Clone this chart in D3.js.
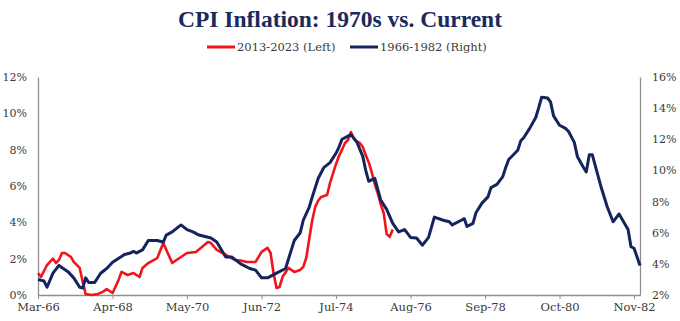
<!DOCTYPE html>
<html>
<head>
<meta charset="utf-8">
<script src="https://cdn.jsdelivr.net/npm/d3@7"></script>
<style>
  body { margin: 0; background: #fff; }
  text { font-family: Georgia, "DejaVu Serif", serif; }
</style>
</head>
<body>
<div id="chart"></div>
<script>
// CPI YoY. Red plots on the left axis, blue on the right.
var blueDates = ["1966-03","1966-05","1966-06","1966-08","1966-10","1967-01","1967-03","1967-05","1967-06","1967-07",
  "1967-08","1967-10","1967-12","1968-02","1968-04","1968-08","1968-10","1968-11","1968-12","1969-02",
  "1969-04","1969-07","1969-09","1969-10","1969-12","1970-03","1970-05","1970-07","1970-09","1971-01",
  "1971-03","1971-05","1971-06","1971-08","1971-11","1972-02","1972-04","1972-06","1972-08","1972-11",
  "1973-02","1973-04","1973-05","1973-07","1973-08","1973-10","1973-11","1974-01","1974-03","1974-05",
  "1974-07","1974-08","1974-09","1974-11","1974-12","1975-02","1975-04","1975-05","1975-06","1975-08",
  "1975-10","1975-12","1976-02","1976-04","1976-06","1976-08","1976-10","1976-12","1977-02","1977-04",
  "1977-07","1977-09","1977-10","1978-01","1978-02","1978-03","1978-05","1978-06","1978-08","1978-10",
  "1978-11","1979-01","1979-03","1979-04","1979-05","1979-08","1979-09","1979-10","1979-12","1980-02",
  "1980-03","1980-04","1980-06","1980-07","1980-08","1980-10","1980-12","1981-01","1981-03","1981-04",
  "1981-06","1981-07","1981-08","1981-09","1981-12","1982-02","1982-04","1982-06","1982-09","1982-10",
  "1982-11","1983-01"];
var blueValues = [3.0,2.9,2.5,3.4,3.9,3.5,3.1,2.5,2.45,3.1,
  2.8,2.8,3.4,3.7,4.1,4.6,4.7,4.8,4.7,4.9,
  5.5,5.5,5.4,5.85,6.05,6.5,6.2,6.05,5.85,5.66,
  5.4,4.76,4.44,4.44,4.0,3.7,3.6,3.1,3.1,3.4,
  3.7,4.9,5.5,6.0,6.8,7.65,8.3,9.5,10.2,10.5,
  11.1,11.5,12.0,12.2,12.3,11.8,10.9,10.0,9.3,9.5,
  8.1,7.5,6.6,6.05,6.2,5.7,5.66,5.2,5.7,7.0,
  6.8,6.7,6.5,6.8,6.9,6.4,6.6,7.3,7.9,8.3,
  8.9,9.1,9.6,10.2,10.7,11.3,11.9,12.1,12.7,13.4,
  14.0,14.7,14.65,14.4,13.5,12.9,12.7,12.5,11.8,10.9,
  10.2,9.9,11.0,11.0,8.9,7.65,6.7,7.2,6.2,5.1,
  5.0,3.9];

var redDates = ["2013-09","2013-10","2013-12","2014-02","2014-03","2014-04","2014-05","2014-06","2014-08","2014-09",
  "2014-11","2014-12","2015-01","2015-03","2015-05","2015-07","2015-08","2015-10","2015-12","2016-01",
  "2016-03","2016-05","2016-07","2016-08","2016-10","2017-01","2017-03","2017-06","2017-09","2017-11",
  "2018-02","2018-04","2018-06","2018-07","2018-09","2018-11","2019-03","2019-05","2019-07","2019-10",
  "2019-12","2020-02","2020-03","2020-04","2020-05","2020-06","2020-07","2020-09","2020-11","2021-01",
  "2021-02","2021-03","2021-04","2021-05","2021-06","2021-07","2021-08","2021-09","2021-10","2021-11",
  "2021-12","2022-01","2022-02","2022-03","2022-04","2022-05","2022-06","2022-07","2022-08","2022-09",
  "2022-10","2022-11","2022-12","2023-01","2023-02","2023-03","2023-04","2023-05","2023-06","2023-07",
  "2023-08"];
var redValues = [1.2,1.0,1.65,2.0,1.76,1.93,2.31,2.31,2.09,1.82,
  1.49,0.72,0.05,0.0,0.05,0.2,0.33,0.11,0.83,1.27,
  1.1,1.21,0.99,1.49,1.76,2.03,2.86,1.76,2.09,2.31,
  2.37,2.64,2.92,2.86,2.48,2.31,1.93,1.9,1.82,1.82,
  2.37,2.59,2.31,1.21,0.39,0.44,0.99,1.49,1.27,1.38,
  1.55,2.05,3.08,4.13,4.84,5.2,5.4,5.45,5.5,6.16,
  6.7,7.2,7.65,8.0,8.37,8.53,8.97,8.6,8.45,8.37,
  8.15,7.7,7.3,6.77,6.1,5.6,5.0,4.5,3.35,3.2,
  3.6];

var xTicks = ["1966-03","1968-04","1970-05","1972-06","1974-07","1976-08","1978-09","1980-10","1982-11"];
var leftTicks = [0, 2, 4, 6, 8, 10, 12];
var rightTicks = [2, 4, 6, 8, 10, 12, 14, 16];

var width = 680, height = 321;
var navy = "#14245c", red = "#f2141b", axisGrey = "#8f8f8f", labelColor = "#3a3a3a";

var parse = d3.timeParse("%Y-%m");

// red period is slid back so it starts where the blue one starts
var blueStart = parse(blueDates[0]), redStart = parse(redDates[0]);
var shift = (blueStart.getFullYear() - redStart.getFullYear()) * 12 + (blueStart.getMonth() - redStart.getMonth());

var blue = blueDates.map(function (d, i) { return { date: parse(d), value: blueValues[i] }; });
var redData = redDates.map(function (d, i) { return { date: d3.timeMonth.offset(parse(d), shift), value: redValues[i] }; });

var x = d3.scaleTime()
    .domain([parse("1966-03"), parse("1983-01")])
    .range([38, 640]);
var yLeft = d3.scaleLinear().domain([0, 12]).range([295, 77]);
var yRight = d3.scaleLinear().domain([2, 16]).range([295, 77]);

var svg = d3.select("#chart").append("svg")
    .attr("width", width)
    .attr("height", height);

svg.append("rect").attr("width", width).attr("height", height).attr("fill", "#fff");

// title
svg.append("text")
    .attr("x", 340)
    .attr("y", 27)
    .attr("text-anchor", "middle")
    .style("font-family", "'Liberation Serif', serif")
    .style("font-weight", "bold")
    .style("font-size", "23.5px")
    .attr("fill", "#1b2a5c")
    .text("CPI Inflation: 1970s vs. Current");

// legend
var legend = [
    { label: "2013-2023 (Left)", color: red, x: 207 },
    { label: "1966-1982 (Right)", color: navy, x: 350 }
];
var lg = svg.selectAll(".legend")
    .data(legend)
    .enter()
    .append("g")
    .attr("class", "legend")
    .attr("transform", function (d) { return "translate(" + d.x + ",47)"; });
lg.append("line")
    .attr("x1", 0).attr("x2", 28)
    .attr("stroke", function (d) { return d.color; })
    .attr("stroke-width", 3);
lg.append("text")
    .attr("x", 30)
    .attr("dy", "0.35em")
    .style("font-size", "11.5px")
    .attr("fill", labelColor)
    .text(function (d) { return d.label; });

// axes
var xAxis = svg.append("g")
    .attr("transform", "translate(0,295)")
    .call(d3.axisBottom(x)
        .tickValues(xTicks.map(parse))
        .tickSize(4)
        .tickSizeOuter(0)
        .tickPadding(4)
        .tickFormat(d3.timeFormat("%b-%y")));

var leftAxis = svg.append("g")
    .attr("transform", "translate(38,0)")
    .call(d3.axisLeft(yLeft)
        .tickValues(leftTicks)
        .tickSize(0)
        .tickPadding(11)
        .tickFormat(function (d) { return d + "%"; }));

var rightAxis = svg.append("g")
    .attr("transform", "translate(640,0)")
    .call(d3.axisRight(yRight)
        .tickValues(rightTicks)
        .tickSize(0)
        .tickPadding(12)
        .tickFormat(function (d) { return d + "%"; }));

[xAxis, leftAxis, rightAxis].forEach(function (g) {
    g.select(".domain").attr("stroke", axisGrey).attr("stroke-width", 1.3);
    g.selectAll(".tick line").attr("stroke", axisGrey);
    g.selectAll(".tick text")
        .attr("fill", labelColor)
        .style("font-family", "Georgia, 'DejaVu Serif', serif")
        .style("font-size", "11px");
});
xAxis.selectAll(".tick text").style("font-size", "11.5px");

// lines: red first, blue over it
var redLine = d3.line()
    .x(function (d) { return x(d.date); })
    .y(function (d) { return yLeft(d.value); });
var blueLine = d3.line()
    .x(function (d) { return x(d.date); })
    .y(function (d) { return yRight(d.value); });

svg.append("path")
    .datum(redData)
    .attr("fill", "none")
    .attr("stroke", red)
    .attr("stroke-width", 2.6)
    .attr("stroke-linejoin", "round")
    .attr("d", redLine);

svg.append("path")
    .datum(blue)
    .attr("fill", "none")
    .attr("stroke", navy)
    .attr("stroke-width", 3)
    .attr("stroke-linejoin", "round")
    .attr("d", blueLine);
</script>
</body>
</html>
